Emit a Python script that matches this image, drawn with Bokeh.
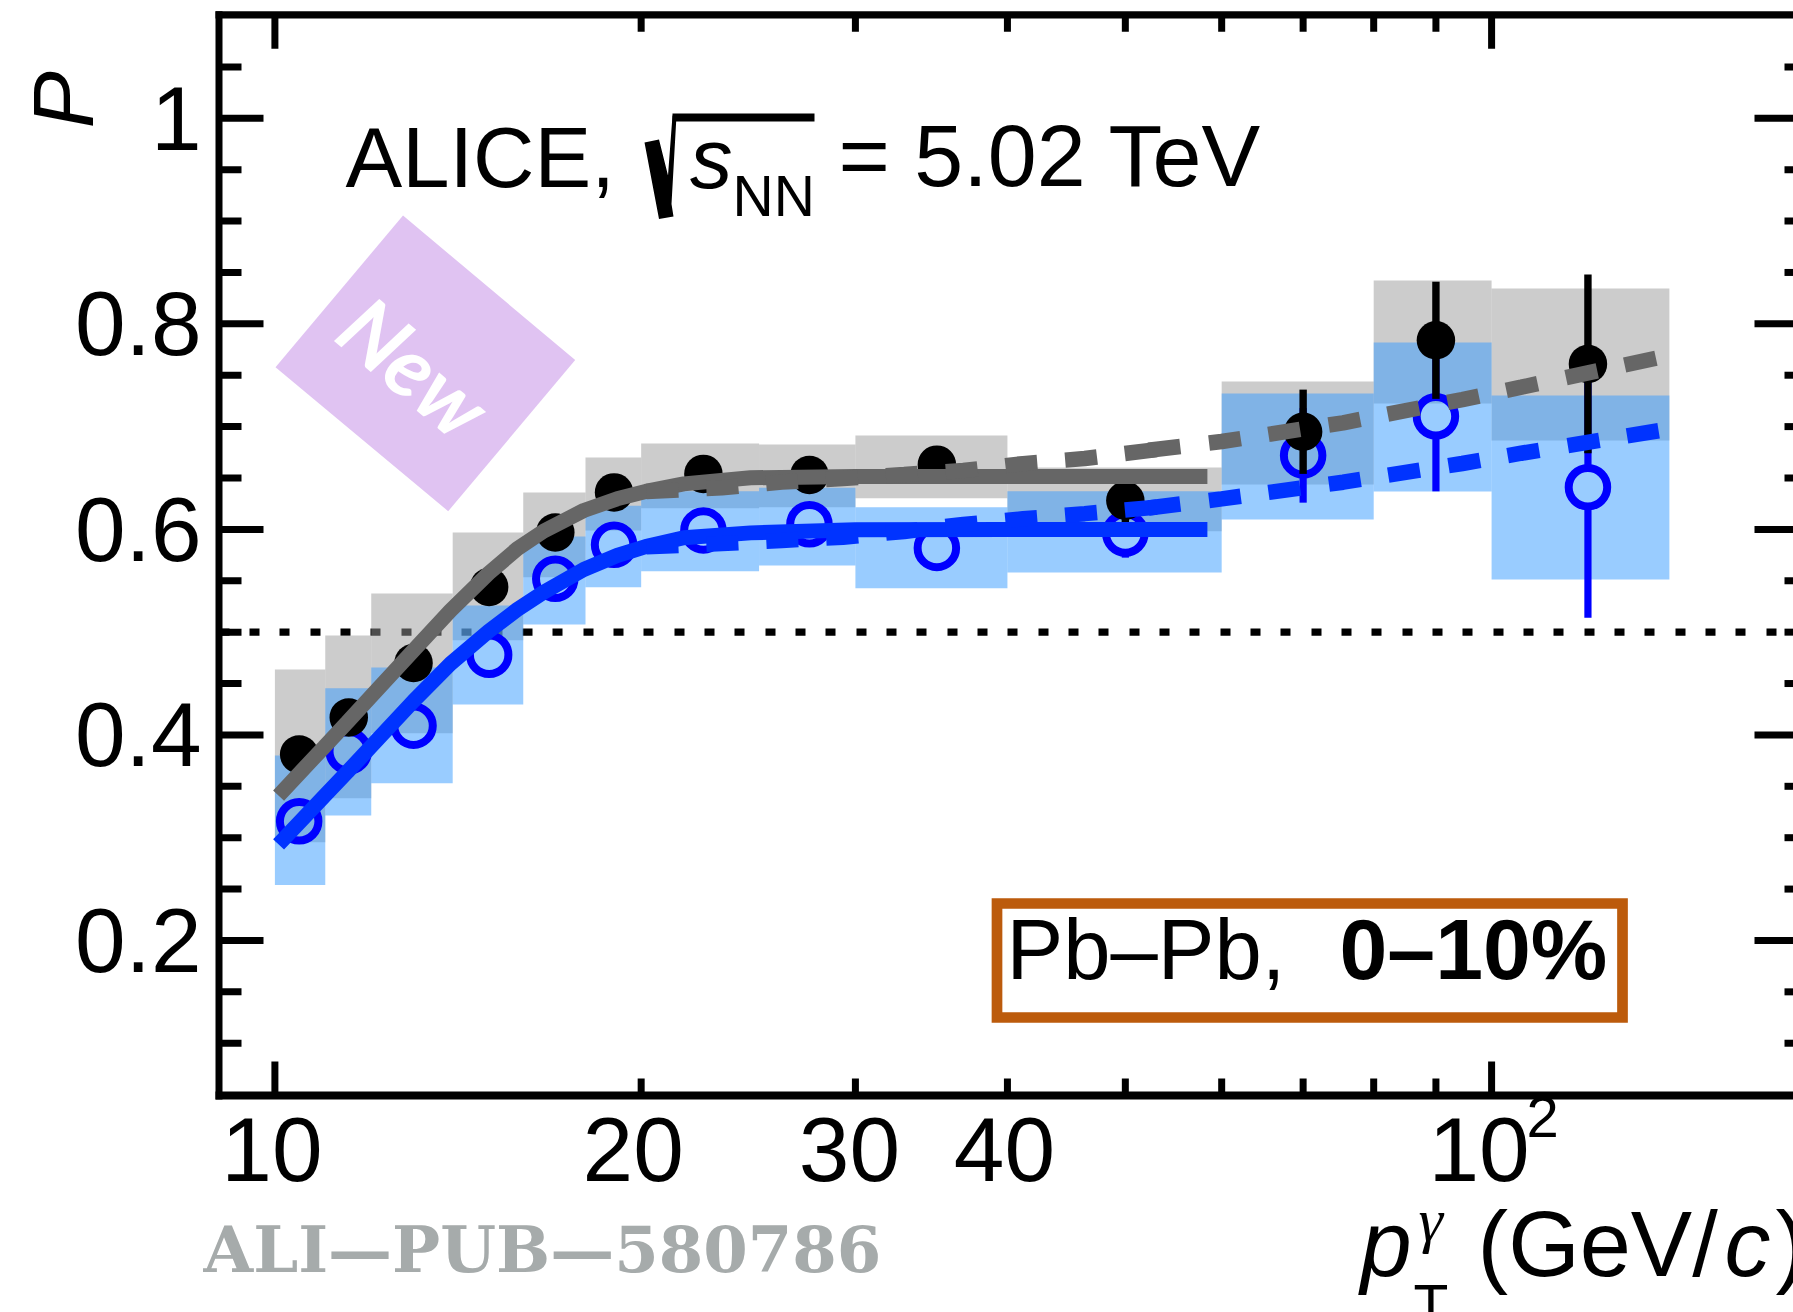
from bokeh.plotting import figure
from bokeh.models import Label
from bokeh.embed import file_html
from bokeh.resources import INLINE
import math

# ---- data ----
bin_lo = [10, 11, 12, 14, 16, 18, 20, 25, 30, 40, 60, 80, 100]
bin_hi = [11, 12, 14, 16, 18, 20, 25, 30, 40, 60, 80, 100, 140]
pt_x = [10.47, 11.5, 13.0, 15.0, 17.0, 19.0, 22.5, 27.5, 35.0, 50.0, 70.0, 90.0, 120.0]

black_y = [0.381, 0.417, 0.470, 0.544, 0.597, 0.636, 0.654, 0.653, 0.663, 0.628, 0.695, 0.784, 0.761]
black_err = [0.015, 0.012, 0.012, 0.012, 0.012, 0.012, 0.012, 0.013, 0.015, 0.022, 0.041, 0.057, 0.087]
black_sys_hi = [0.4636, 0.4967, 0.5376, 0.597, 0.636, 0.670, 0.6836, 0.6826, 0.6913, 0.6602, 0.7439, 0.8422, 0.8344]
black_sys_lo = [0.2956, 0.3384, 0.4017, 0.492, 0.5535, 0.599, 0.6206, 0.6216, 0.6303, 0.5982, 0.6437, 0.7225, 0.6865]

blue_y = [0.316, 0.384, 0.409, 0.478, 0.552, 0.585, 0.599, 0.605, 0.582, 0.596, 0.672, 0.710, 0.641]
blue_err = [0.015, 0.012, 0.012, 0.012, 0.012, 0.012, 0.012, 0.013, 0.016, 0.0235, 0.046, 0.073, 0.127]
blue_sys_hi = [0.380, 0.4455, 0.4656, 0.526, 0.593, 0.623, 0.637, 0.6405, 0.6216, 0.6372, 0.7322, 0.7818, 0.7303]
blue_sys_lo = [0.254, 0.3216, 0.353, 0.4296, 0.5075, 0.5437, 0.5593, 0.5649, 0.5428, 0.558, 0.6096, 0.6369, 0.5512]

fit_x = [10.07, 10.97, 11.47, 11.98, 13.0, 13.94, 14.99, 15.82, 16.63, 17.94, 19.11, 20.17, 21.68, 24.6, 30.0, 40.0, 58.4]
gray_fit = [0.341, 0.388, 0.4125, 0.4367, 0.4822, 0.521, 0.5574, 0.5811, 0.5983, 0.6184, 0.6297, 0.6369, 0.6443, 0.6502, 0.6515, 0.6515, 0.6515]
blue_fit = [0.2935, 0.340, 0.364, 0.388, 0.433, 0.4692, 0.5010, 0.5220, 0.5389, 0.5610, 0.5746, 0.5833, 0.5918, 0.5966, 0.5996, 0.600, 0.600]

ext_a_x = [20.2, 23.3, 26.1, 29.3, 32.9, 36.8, 41.2, 46.3, 53.7]
gray_ext_a = [0.6369, 0.6405, 0.646, 0.6495, 0.6534, 0.6573, 0.664, 0.669, 0.6784]
blue_ext_a = [0.583, 0.5862, 0.5892, 0.5924, 0.598, 0.6048, 0.6103, 0.6153, 0.6222]
ext_b_x = [52.24, 60.0, 75.5, 94.6, 105.8, 137.7]
gray_ext_b = [0.677, 0.6855, 0.7037, 0.7263, 0.7384, 0.7675]
blue_ext_b = [0.6208, 0.6297, 0.6459, 0.6641, 0.6741, 0.6963]

y_ticks = [0.2, 0.4, 0.6, 0.8, 1.0]
y_labels = ["0.2", "0.4", "0.6", "0.8", "1"]
y_minor = [0.1, 0.15, 0.25, 0.3, 0.35, 0.45, 0.5, 0.55, 0.65, 0.7, 0.75, 0.85, 0.9, 0.95, 1.05]
x_major = [10, 100]
x_minor = [20, 30, 40, 50, 60, 70, 80, 90]
x_tick_text = ["10", "20", "30", "40"]
x_tick_pos = [10, 20, 30, 40]
x_tick_nudge = [-3, -8, -6, -3]

# picture pixel -> data, used for frame, ticks and annotation placement
def fx(px):
    return 10 ** (1 + (px - 274.4) / 1216.7)
def fy(py):
    return 1 - (py - 117.8) / 1027.7

SANS = "Liberation Sans"

p = figure(width=1793, height=1312, x_axis_type="log",
           x_range=(fx(0), fx(1793)), y_range=(fy(1312), fy(0)),
           x_axis_location=None, y_axis_location=None,
           output_backend="svg", toolbar_location=None,
           min_border_left=0, min_border_right=0, min_border_top=0, min_border_bottom=0,
           background_fill_color="white", border_fill_color="white", outline_line_color=None)
p.grid.visible = False

def hseg(x0, x1, y, w):
    p.segment([fx(x0)], [fy(y)], [fx(x1)], [fy(y)], line_color="black", line_width=w)

# frame
p.segment([fx(218.5)], [fy(10.7)], [fx(218.5)], [fy(1099)], line_color="black", line_width=7)
hseg(215, 1793, 14.3, 7.2)
hseg(215, 1793, 1095, 8)

# x ticks, bottom and top
for ticks, length in ((x_major, 34), (x_minor, 17)):
    p.segment(ticks, [fy(1095)] * len(ticks), ticks, [fy(1095 - length)] * len(ticks), line_color="black", line_width=7)
    p.segment(ticks, [fy(14.3)] * len(ticks), ticks, [fy(14.3 + length)] * len(ticks), line_color="black", line_width=7)

# y ticks, left and right
for ticks, x0, x1 in ((y_ticks, 219, 263), (y_minor, 219, 241), (y_ticks, 1754, 1793), (y_minor, 1784, 1793)):
    p.segment([fx(x0)] * len(ticks), ticks, [fx(x1)] * len(ticks), ticks, line_color="black", line_width=7)

# dotted line at 0.5, under the boxes
p.line([fx(219), fx(1793)], [0.5, 0.5], line_color="black", line_width=7.3, line_dash="10 20 10 20 10 21")

# systematic boxes
p.quad(left=bin_lo, right=bin_hi, bottom=black_sys_lo, top=black_sys_hi,
       fill_color="#999999", fill_alpha=0.5, line_color=None)
p.quad(left=bin_lo, right=bin_hi, bottom=blue_sys_lo, top=blue_sys_hi,
       fill_color="#3399ff", fill_alpha=0.5, line_color=None)

# open markers and their statistical bars (bars stop at the ring)
RING = 0.0214
bx = [x for x, e in zip(pt_x, blue_err) if e > RING]
by = [y for y, e in zip(blue_y, blue_err) if e > RING]
be = [e for e in blue_err if e > RING]
p.segment(bx, [y - e for y, e in zip(by, be)], bx, [y - RING for y in by], line_color="#0000ff", line_width=7.2)
p.segment(bx, [y + RING for y in by], bx, [y + e for y, e in zip(by, be)], line_color="#0000ff", line_width=7.2)
p.scatter(pt_x, blue_y, size=38.5, marker="circle", fill_color=None, line_color="#0000ff", line_width=8)

# full markers
p.segment(pt_x, [y - e for y, e in zip(black_y, black_err)], pt_x, [y + e for y, e in zip(black_y, black_err)],
          line_color="black", line_width=7.4)
p.scatter(pt_x, black_y, size=38.5, marker="circle", fill_color="black", line_color=None)

# fits
p.line(fit_x, gray_fit, line_color="#666666", line_width=15)
p.line(ext_a_x, gray_ext_a, line_color="#666666", line_width=15.5, line_dash="32 28")
p.line(ext_b_x, gray_ext_b, line_color="#666666", line_width=15.5, line_dash="32 29 32 28")
p.line(fit_x, blue_fit, line_color="#0033ff", line_width=15)
p.line(ext_a_x, blue_ext_a, line_color="#0033ff", line_width=15.5, line_dash="32 28")
p.line(ext_b_x, blue_ext_b, line_color="#0033ff", line_width=15.5, line_dash="32 29 32 28")

# "New" stamp
p.patch([fx(v) for v in (402.5, 574.7, 447.7, 275)], [fy(v) for v in (215, 359.6, 510.7, 366.8)],
        fill_color="#E0C3F2", line_color=None)

# radical sign
rad_x = [644, 658.5, 667.5, 672, 676, 671, 673, 658.5]
rad_y = [142, 139, 175, 115, 115, 203.6, 216, 218.6]
p.patch([fx(v) for v in rad_x], [fy(v) for v in rad_y], fill_color="black", line_color=None)
p.patch([fx(v) for v in (672, 814, 814, 672)], [fy(v) for v in (113, 113, 121, 121)],
        fill_color="black", line_color=None)

# centrality box
p.quad(left=[fx(996.5)], right=[fx(1622)], bottom=[fy(1017)], top=[fy(903)],
       fill_color="white", line_color="#BC5B0C", line_width=10.7, line_join="miter")

BASE = 0.37  # distance Bokeh leaves between the anchor and the drawn baseline, per font size

def lab(px, py, text, size, font=SANS, style="normal", color="black", align="left"):
    p.add_layout(Label(x=fx(px), y=fy(py - BASE * size), text=text, text_font=font, text_font_size=f"{size}px",
                       text_font_style=style, text_color=color, text_align=align, text_baseline="alphabetic"))

lab(345, 188, "ALICE,", 85)
lab(689.6, 189, "s", 85, style="italic")
lab(732, 217, "NN", 57)
lab(838, 188, "= 5.02 TeV", 88)
lab(1006, 980, "Pb\u2013Pb,", 85)
lab(1339, 980, "0\u201310%", 86, style="bold")
p.add_layout(Label(x=fx(415), y=fy(366), text="New", text_font="Lato", text_font_size="85px",
                   text_font_style="bold italic", text_color="white", angle=math.radians(-40), angle_units="rad",
                   text_align="center", text_baseline="middle"))

# y tick labels
for v, t in zip(y_ticks, y_labels):
    p.add_layout(Label(x=fx(201), y=v, text=t, text_font=SANS, text_font_size="91px", text_color="black",
                       text_align="right", text_baseline="middle"))

# y title
p.add_layout(Label(x=fx(94 - BASE * 86), y=fy(128), text="P", text_font=SANS, text_font_size="86px",
                   text_font_style="italic", text_color="black", angle=math.pi / 2, angle_units="rad",
                   text_align="left", text_baseline="alphabetic"))

# x tick labels
for t, v, n in zip(x_tick_text, x_tick_pos, x_tick_nudge):
    px = 274.4 + math.log10(v / 10) * 1216.7
    lab(px + n, 1183, t, 91, align="center")
lab(1428, 1183, "10", 91)
lab(1526, 1138, "2", 58)

# x title
lab(1360, 1278, "p", 92, style="italic")
lab(1418, 1242, "\u03b3", 62, font="Liberation Serif", style="italic")
lab(1413, 1326, "T", 57)
lab(1477, 1278, "(GeV/", 92)
lab(1724, 1278, "c", 92, style="italic")
lab(1775, 1278, ")", 92)

lab(203, 1273, "ALI\u2014PUB\u2014580786", 64, font="DejaVu Serif", style="bold", color="#A6ABAB")

open("out.html", "w").write(file_html(p, INLINE))
